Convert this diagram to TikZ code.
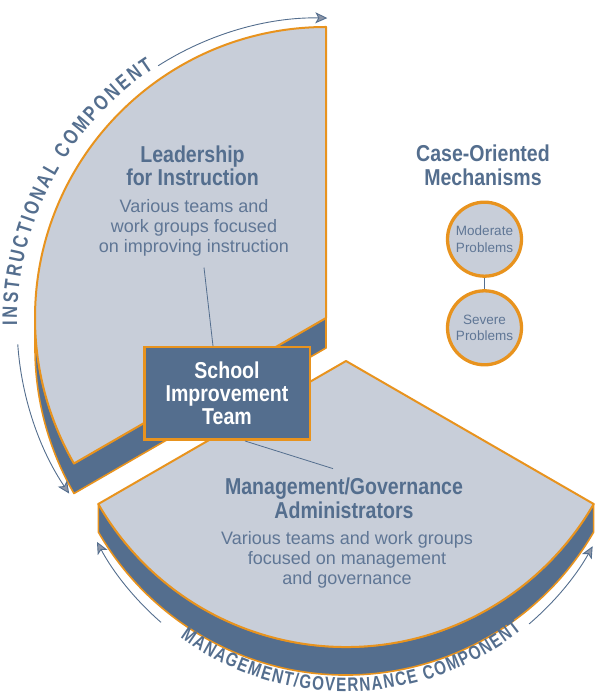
\documentclass[tikz,border=0pt]{standalone}
\usepackage{fontspec}
\setmainfont{Liberation Sans}
\newfontfamily\headfont{Liberation Sans}[FakeStretch=0.85]
\newfontfamily\arcfont{Liberation Sans}[FakeStretch=0.78]
\usetikzlibrary{arrows.meta,decorations.text}
\definecolor{facegray}{HTML}{C8CED9}
\definecolor{slate}{HTML}{546E8E}
\definecolor{bodyblue}{HTML}{5F7695}
\definecolor{rim}{HTML}{E8931E}
\definecolor{tipgray}{HTML}{8C96A8}
\begin{document}
\begin{tikzpicture}[x=1pt,y=1pt,
    face/.style={fill=facegray, draw=rim, line width=2pt, line join=round},
    slab/.style={fill=slate, draw=rim, line width=1.6pt, line join=round},
    heading/.style={text=slate, align=center, font=\headfont\bfseries\fontsize{23}{23.4}\selectfont},
    blurb/.style={text=bodyblue, align=center, font=\fontsize{18}{19.8}\selectfont},
    sitbox/.style={fill=slate, draw=rim, line width=2.5pt, minimum width=165.5pt, minimum height=92.5pt,
      text=white, align=center, font=\headfont\bfseries\fontsize{23}{23.2}\selectfont},
    casebubble/.style={circle, fill=facegray, draw=rim, line width=3.3pt, minimum size=74pt, inner sep=0pt,
      text=bodyblue, align=center, font=\fontsize{13.5}{16.5}\selectfont},
    leader/.style={draw=slate, line width=0.8pt},
    comparrow/.style={draw=slate, line width=0.9pt, -{Stealth[length=12pt,width=11pt,inset=3pt,fill=tipgray]}},
    arclabel/.style={decorate, decoration={text along path, text align={fit to path}, text color=slate}}]
  \useasboundingbox (0,0) rectangle (599,696);
  \coordinate (topc) at (326,378);
  \coordinate (botc) at (346,335);
  \coordinate (instc) at (322,373);
  \coordinate (mgc) at (346,286.5);
  % instructional sector
  \filldraw[slab] ([shift={(180:291)}]topc) arc[start angle=180,end angle=210,radius=291] -- (topc)
    -- ++(0,-30) -- ++(210:291) arc[start angle=210,end angle=180,radius=291] -- cycle;
  \filldraw[face] (topc) -- ++(90:291) arc[start angle=90,end angle=210,radius=291] -- cycle;
  % management sector
  \filldraw[slab] ([shift={(210:286)}]botc) arc[start angle=210,end angle=330,radius=286]
    -- ++(0,-28) arc[start angle=330,end angle=210,radius=286] -- cycle;
  \filldraw[face] (botc) -- ++(210:286) arc[start angle=210,end angle=330,radius=286] -- cycle;
  % component labels
  \path[arclabel, decoration={text={|\arcfont\bfseries\fontsize{21}{21}\selectfont|INSTRUCTIONAL COMPONENT}}]
    ([shift={(180.5:305)}]instc) arc[start angle=180.5,end angle=123.5,radius=305];
  \draw[comparrow] ([shift={(122.5:305)}]instc) arc[start angle=122.5,end angle=89,radius=305];
  \draw[comparrow] ([shift={(184:305)}]instc) arc[start angle=184,end angle=214,radius=305];
  \path[arclabel, decoration={text={|\arcfont\bfseries\fontsize{19.5}{19.5}\selectfont|MANAGEMENT/GOVERNANCE COMPONENT}}]
    ([shift={(234:282)}]mgc) arc[start angle=234,end angle=308.5,radius=282];
  \draw[comparrow] ([shift={(229:282)}]mgc) arc[start angle=229,end angle=208,radius=282];
  \draw[comparrow] ([shift={(310.5:282)}]mgc) arc[start angle=310.5,end angle=331,radius=282];
  % texts
  \node[heading] (lihead) at (192.5,530.3) {Leadership\\for Instruction};
  \node[blurb] (lidesc) at (194,468.2) {Various teams and\\work groups focused\\on improving instruction};
  \node[heading] (cohead) at (483,530.8) {Case-Oriented\\Mechanisms};
  \node[heading] (mghead) at (344,197.7) {Management/Governance\\Administrators};
  \node[blurb] (mgdesc) at (347,136.4) {Various teams and work groups\\focused on management\\and governance};
  \node[casebubble] (mod) at (484.5,456.8) {Moderate\\Problems};
  \node[casebubble] (sev) at (484.5,368.2) {Severe\\Problems};
  \node[sitbox] (sit) at (227,302.5) {School\\Improvement\\Team};
  \draw[leader] (mod) -- (sev);
  \draw[leader] ([shift={(10,-8)}]lidesc.south) -- ([xshift=-14pt]sit.north);
  \draw[leader] ([xshift=18pt]sit.south) -- ([shift={(-11,6)}]mghead.north);
\end{tikzpicture}
\end{document}
